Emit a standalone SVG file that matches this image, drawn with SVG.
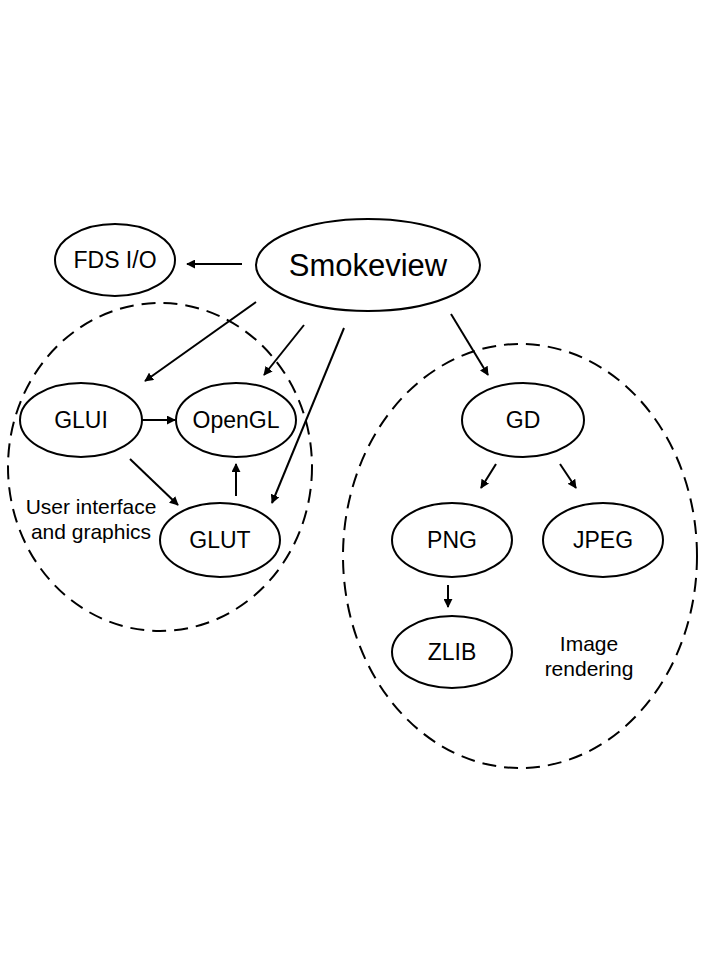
<svg xmlns="http://www.w3.org/2000/svg" width="720" height="960" viewBox="0 0 720 960">
<defs>
<marker id="ah" viewBox="0 0 10 10" refX="9" refY="5" markerWidth="9" markerHeight="9" markerUnits="userSpaceOnUse" orient="auto">
<path d="M0,0 L10,5 L0,10 z" fill="#000"/>
</marker>
<style>
.node{fill:#fff;stroke:#000;stroke-width:2}
.grp{fill:none;stroke:#000;stroke-width:2;stroke-dasharray:14 8}
.t{font-family:"Liberation Sans",Arial,sans-serif;font-size:23px;fill:#000;text-anchor:middle;dominant-baseline:central}
.lbl{font-family:"Liberation Sans",Arial,sans-serif;font-size:21px;fill:#000;text-anchor:middle}
.c{stroke:#000;stroke-width:2;fill:none;marker-end:url(#ah)}
</style>
</defs>
<rect width="720" height="960" fill="#fff"/>
<g id="groups">
<ellipse class="grp" cx="160" cy="467" rx="152" ry="164"/>
<ellipse class="grp" cx="520" cy="556" rx="177" ry="212"/>
<text class="lbl" x="91" y="514">User interface</text>
<text class="lbl" x="91" y="539">and graphics</text>
<text class="lbl" x="589" y="651">Image</text>
<text class="lbl" x="589" y="676">rendering</text>
</g>
<g id="connectors">
<line class="c" x1="242" y1="264" x2="187" y2="264"/>
<line class="c" x1="256" y1="302" x2="145" y2="381"/>
<line class="c" x1="304" y1="325" x2="264" y2="375"/>
<line class="c" x1="344" y1="328" x2="272" y2="503"/>
<line class="c" x1="142" y1="420" x2="175" y2="420"/>
<line class="c" x1="130" y1="459" x2="178" y2="505"/>
<line class="c" x1="236" y1="496" x2="236" y2="464"/>
<line class="c" x1="451" y1="314" x2="488" y2="375"/>
<line class="c" x1="496" y1="464" x2="481" y2="488"/>
<line class="c" x1="560" y1="464" x2="576" y2="488"/>
<line class="c" x1="448" y1="585" x2="448" y2="607"/>
</g>
<g id="smokeview"><ellipse class="node" cx="368" cy="265" rx="112" ry="46"/><text class="t" x="368" y="265" style="font-size:31px">Smokeview</text></g>
<g id="fdsio"><ellipse class="node" cx="115" cy="260" rx="60" ry="36"/><text class="t" x="115" y="260">FDS I/O</text></g>
<g id="glui"><ellipse class="node" cx="81" cy="420" rx="61" ry="37"/><text class="t" x="81" y="420">GLUI</text></g>
<g id="opengl"><ellipse class="node" cx="236" cy="420" rx="60" ry="37"/><text class="t" x="236" y="420">OpenGL</text></g>
<g id="glut"><ellipse class="node" cx="220" cy="540" rx="60" ry="37"/><text class="t" x="220" y="540">GLUT</text></g>
<g id="gd"><ellipse class="node" cx="523" cy="420" rx="61" ry="37"/><text class="t" x="523" y="420">GD</text></g>
<g id="png"><ellipse class="node" cx="452" cy="540" rx="60" ry="37"/><text class="t" x="452" y="540">PNG</text></g>
<g id="jpeg"><ellipse class="node" cx="603" cy="540" rx="60" ry="37"/><text class="t" x="603" y="540">JPEG</text></g>
<g id="zlib"><ellipse class="node" cx="452" cy="652" rx="60" ry="36"/><text class="t" x="452" y="652">ZLIB</text></g>
</svg>
